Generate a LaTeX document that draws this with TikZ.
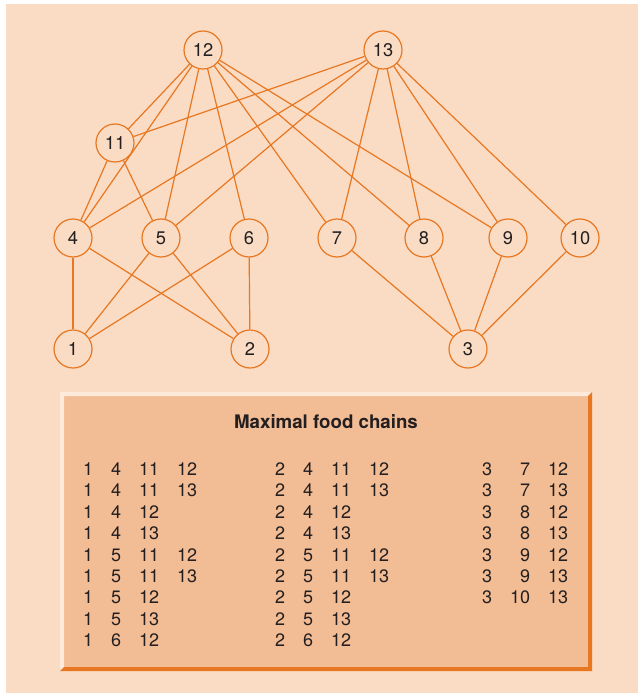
\documentclass[tikz,border=0pt]{standalone}
\usepackage{fontspec}
\setmainfont{TeX Gyre Heros}
\usetikzlibrary{positioning}
\definecolor{webpeach}{RGB}{250, 220, 196}
\definecolor{webbox}{RGB}{242, 188, 148}
\definecolor{weborange}{RGB}{232, 119, 34}
\definecolor{weblight}{RGB}{253, 234, 218}
\definecolor{webtext}{RGB}{35, 31, 32}
\tikzset{
  species/.style={
    circle, draw=weborange, fill=webpeach, line width=1.2pt,
    minimum size=38pt, inner sep=0pt,
    font=\fontsize{18.3}{21.4}\selectfont, text=webtext
  },
  eats/.style={draw=weborange, line width=1.2pt},
  chains/.style={
    anchor=base west, inner sep=0pt, text=webtext,
    font=\fontsize{18}{21.4}\selectfont
  },
}
\newcommand{\chaincols}[1]{\begin{tabular}[t]{@{}#1@{}}}

\begin{document}
\begin{tikzpicture}[x=1pt, y=-1pt]
        \useasboundingbox (0,0) rectangle (638,693);
        \fill[white] (0,0) rectangle (638,693);
        \fill[webpeach] (6,4) rectangle (638,693);
        % top predators
        \node[species] (s12) at (203,50)  {12};
        \node[species] (s13) at (383,50)  {13};
        \node[species] (s11) at (115,143) {11};
        % middle level
        \node[species] (s4)  at (73,238)  {4};
        \node[species] (s5)  at (161,238) {5};
        \node[species] (s6)  at (249,238) {6};
        \node[species] (s7)  at (337,238) {7};
        \node[species] (s8)  at (424,238) {8};
        \node[species] (s9)  at (508,238) {9};
        \node[species] (s10) at (580,238) {10};
        % basal species
        \node[species] (s1)  at (73,349)  {1};
        \node[species] (s2)  at (250,349) {2};
        \node[species] (s3)  at (468,349) {3};
        \foreach \t in {11,4,5,6,7,8,9} \draw[eats] (s12) -- (s\t);
        \foreach \t in {11,4,5,7,8,9,10} \draw[eats] (s13) -- (s\t);
        \draw[eats] (s11) -- (s4); \draw[eats] (s11) -- (s5);
        \foreach \t in {4,5,6} {\draw[eats] (s\t) -- (s1); \draw[eats] (s\t) -- (s2);}
        \foreach \t in {7,8,9,10} \draw[eats] (s\t) -- (s3);
        % table of chains
        \fill[webbox] (60,392) rectangle (592,671);
        \fill[weblight] (60,392) -- (592,392) -- (588,396) -- (64,396) -- (64,667) -- (60,671) -- cycle;
        \fill[weborange] (592,392) -- (592,671) -- (60,671) -- (64,667) -- (588,667) -- (588,396) -- cycle;
        \node[chains, anchor=base, font=\fontsize{18.7}{21.4}\selectfont\bfseries] (title) at (326,428.5) {Maximal food chains};
        \node[chains] (chain1) at (83,475.5) {\chaincols{r@{\hspace{18pt}}r@{\hspace{18pt}}r@{\hspace{18pt}}r}
          1&4&11&12\\ 1&4&11&13\\ 1&4&12&\\ 1&4&13&\\ 1&5&11&12\\ 1&5&11&13\\ 1&5&12&\\ 1&5&13&\\ 1&6&12&
        \end{tabular}};
        \node[chains] (chain2) at (275,475.5) {\chaincols{r@{\hspace{18pt}}r@{\hspace{18pt}}r@{\hspace{18pt}}r}
          2&4&11&12\\ 2&4&11&13\\ 2&4&12&\\ 2&4&13&\\ 2&5&11&12\\ 2&5&11&13\\ 2&5&12&\\ 2&5&13&\\ 2&6&12&
        \end{tabular}};
        \node[chains] (chain3) at (482,475.5) {\chaincols{r@{\hspace{18pt}}r@{\hspace{18pt}}r}
          3&7&12\\ 3&7&13\\ 3&8&12\\ 3&8&13\\ 3&9&12\\ 3&9&13\\ 3&10&13
        \end{tabular}};
      \end{tikzpicture}
\end{document}
